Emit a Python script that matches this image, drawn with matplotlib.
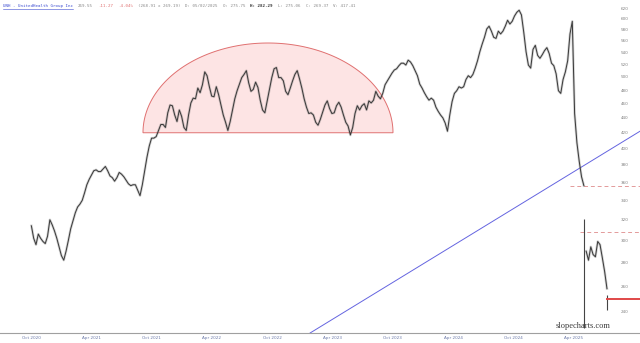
import matplotlib
matplotlib.use('Agg')
from matplotlib import pyplot as plt
import matplotlib.dates as mdates
from matplotlib.ticker import FixedLocator, FuncFormatter, NullLocator
import numpy as np
import pandas as pd

# weekly closes, UNH, Oct 2020 - Jul 2025
dates = pd.date_range('2020-10-02', periods=250, freq='7D')
close = [314, 302, 296, 306, 302, 299, 297, 304, 320, 315,
         309, 302, 294, 286, 282, 290, 300, 311, 319, 327,
         333, 336, 340, 348, 357, 363, 368, 373, 374, 372,
         372, 375, 378, 373, 367, 365, 361, 365, 371, 369,
         366, 362, 358, 356, 357, 357, 351, 345, 357, 373,
         389, 403, 413, 413, 415, 423, 431, 431, 427, 447,
         458, 457, 444, 435, 451, 442, 427, 423, 444, 461,
         468, 467, 483, 476, 488, 508, 502, 485, 471, 470,
         485, 473, 458, 444, 434, 423, 435, 451, 467, 479,
         489, 499, 504, 510, 491, 478, 481, 492, 484, 465,
         451, 447, 464, 481, 499, 513, 515, 499, 499, 494,
         478, 473, 483, 494, 504, 510, 497, 483, 467, 455,
         446, 447, 444, 434, 430, 438, 448, 458, 464, 453,
         446, 447, 457, 462, 455, 444, 434, 429, 417, 427,
         446, 457, 451, 457, 460, 451, 464, 461, 465, 478,
         471, 467, 475, 488, 494, 500, 506, 511, 513, 518,
         522, 522, 519, 527, 524, 518, 510, 502, 489, 483,
         476, 470, 465, 468, 465, 455, 449, 444, 440, 433,
         422, 444, 463, 475, 479, 485, 483, 485, 496, 502,
         499, 504, 514, 526, 541, 554, 566, 581, 586, 577,
         566, 564, 577, 572, 577, 586, 597, 590, 595, 605,
         612, 616, 607, 575, 541, 519, 514, 545, 552, 535,
         530, 536, 543, 548, 538, 522, 518, 505, 479, 475,
         496, 508, 526, 572, 595, 446, 407, 384, 366, 356,
         290, 282, 294, 287, 285, 299, 296, 284, 272, 258]
gap_at = 240  # gap down after the April 2025 crash

# single bars with long wicks
wick_dates = ['2025-05-02', '2025-07-11']
wick_high = [321, 253]
wick_low = [228, 241]

# drawing tools on the chart
dome_left, dome_right = '2021-09-05', '2023-10-02'
dome_base, dome_top = 420, 556
trend_dates = ['2023-01-24', '2025-10-19']
trend_prices = [224.6, 422]
dash_starts = ['2025-03-21', '2025-04-21']
dash_levels = [356, 308]
last_date, last_price = '2025-07-11', 250

xtick_dates = ['2020-10-01', '2021-04-01', '2021-10-01', '2022-04-01', '2022-10-01',
               '2023-04-01', '2023-10-01', '2024-04-01', '2024-10-01', '2025-04-01']
xtick_labels = ['Oct 2020', 'Apr 2021', 'Oct 2021', 'Apr 2022', 'Oct 2022',
                'Apr 2023', 'Oct 2023', 'Apr 2024', 'Oct 2024', 'Apr 2025']
ytick_values = list(range(240, 621, 20))

fig = plt.figure(figsize=(6.4, 3.43), dpi=100)
ax = fig.add_axes([0, 10 / 343, 1, 333 / 343])
ax.set_yscale('log')

# price line (thin dark line over a faint band to look like dense bars)
for seg in (slice(0, gap_at), slice(gap_at, None)):
    ax.plot(dates[seg], close[seg], color='#666666', lw=1.8, alpha=0.3, zorder=3)
    ax.plot(dates[seg], close[seg], color='#383838', lw=0.7, zorder=4)
ax.vlines(pd.to_datetime(wick_dates), wick_low, wick_high, color='#444444', lw=0.8, zorder=4)

ax.set_xlim(pd.Timestamp('2020-06-29'), pd.Timestamp('2025-10-19'))
ax.set_ylim(224.6, 636)

# rounded top
l, r = mdates.date2num(pd.Timestamp(dome_left)), mdates.date2num(pd.Timestamp(dome_right))
t = np.linspace(0, np.pi, 200)
dx = (l + r) / 2 + (r - l) / 2 * np.cos(t)
dy = np.exp(np.log(dome_base) + np.log(dome_top / dome_base) * np.sin(t))
ax.fill(dx, dy, facecolor='#fde4e4', edgecolor='#e07070', lw=0.7, zorder=1)

# trendline
ax.plot(pd.to_datetime(trend_dates), trend_prices, color='#6464e0', lw=0.7, zorder=2)

# dashed levels and last price
x_end = pd.Timestamp('2025-10-19')
for d0, lvl in zip(dash_starts, dash_levels):
    ax.plot([pd.Timestamp(d0), x_end], [lvl, lvl], color='#e39a9a', lw=0.7,
            ls=(0, (4, 3)), zorder=2)
ax.plot([pd.Timestamp(last_date), x_end], [last_price, last_price], color='#e04848',
        lw=1.4, zorder=5)

# axes styling
for s in ('top', 'left', 'right'):
    ax.spines[s].set_visible(False)
ax.spines['bottom'].set_color('#a0a0a0')
ax.spines['bottom'].set_linewidth(0.8)

ax.set_xticks(pd.to_datetime(xtick_dates))
ax.set_xticklabels(xtick_labels)
ax.tick_params(axis='x', length=0, pad=2, labelsize=3, labelcolor='#6a78a8')

ax.yaxis.tick_right()
ax.yaxis.set_major_locator(FixedLocator(ytick_values))
ax.yaxis.set_major_formatter(FuncFormatter(lambda v, p: f'{v:.0f}'))
ax.yaxis.set_minor_locator(NullLocator())
ax.tick_params(axis='y', length=0, pad=-14, labelsize=3, labelcolor='#808080')

# header line
fs = 3.0
cw = 0.6 * fs * 100 / 72 / 640
pieces = [('UNH - UnitedHealth Group Inc', '#3b4bd0'), ('269.55', '#888888'),
          ('-11.27', '#e07070'), ('-4.04%', '#e07070'), ('(268.91 x 269.19)', '#888888'),
          ('D: 05/02/2025', '#888888'), ('O: 275.75', '#888888'), ('H: 282.29', '#333333'),
          ('L: 275.06', '#888888'), ('C: 269.37', '#888888'), ('V: 417.41', '#888888')]
x = 3 / 640
for txt, col in pieces:
    fig.text(x, 1 - 6 / 343, txt, fontsize=fs, family='DejaVu Sans Mono', color=col,
             va='center', ha='left',
             weight='bold' if txt.startswith('H:') else 'normal')
    x += (len(txt) + 2) * cw
fig.add_artist(plt.Line2D([3 / 640, 3 / 640 + 28 * cw], [1 - 8.5 / 343] * 2,
                          color='#3b4bd0', lw=0.4))

fig.text(583 / 640, 1 - 326 / 343, 'slopecharts.com', fontsize=6, family='Liberation Serif',
         color='#3a3a3a', ha='center', va='center')

fig.savefig('out.png', dpi=100)
